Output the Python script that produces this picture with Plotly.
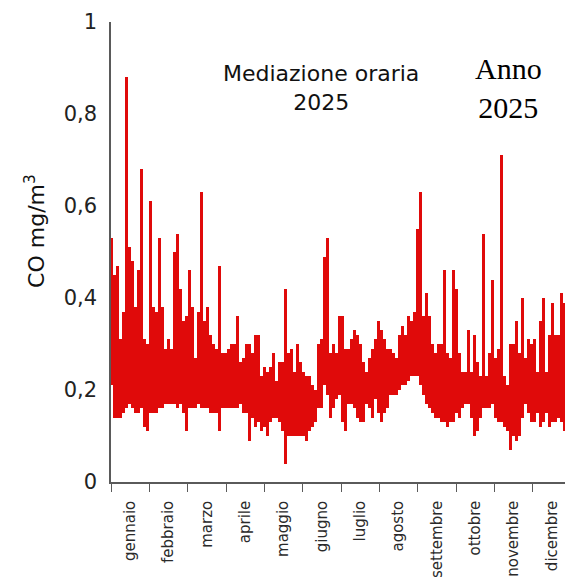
import numpy as np
import plotly.graph_objects as go

# Hourly CO (mg/m3) over 2025, summarised as successive high / low values
co_high = [
    0.53, 0.45, 0.47, 0.31, 0.37, 0.88, 0.51, 0.48, 0.38, 0.46,
    0.68, 0.31, 0.30, 0.61, 0.38, 0.37, 0.53, 0.38, 0.29, 0.31,
    0.29, 0.50, 0.54, 0.42, 0.35, 0.36, 0.46, 0.38, 0.27, 0.37,
    0.63, 0.35, 0.38, 0.32, 0.30, 0.29, 0.47, 0.28, 0.28, 0.29,
    0.30, 0.30, 0.36, 0.26, 0.27, 0.30, 0.30, 0.28, 0.32, 0.32,
    0.23, 0.25, 0.24, 0.25, 0.28, 0.22, 0.26, 0.26, 0.42, 0.28,
    0.29, 0.24, 0.30, 0.26, 0.24, 0.23, 0.23, 0.21, 0.20, 0.30,
    0.31, 0.49, 0.53, 0.28, 0.30, 0.28, 0.36, 0.36, 0.29, 0.29,
    0.31, 0.33, 0.32, 0.30, 0.26, 0.24, 0.27, 0.29, 0.31, 0.35,
    0.33, 0.31, 0.29, 0.29, 0.28, 0.27, 0.32, 0.34, 0.32, 0.36,
    0.35, 0.37, 0.55, 0.63, 0.36, 0.41, 0.36, 0.30, 0.28, 0.30,
    0.30, 0.46, 0.28, 0.27, 0.46, 0.42, 0.28, 0.24, 0.24, 0.33,
    0.24, 0.32, 0.26, 0.23, 0.54, 0.23, 0.28, 0.44, 0.27, 0.29,
    0.71, 0.23, 0.21, 0.30, 0.30, 0.35, 0.28, 0.40, 0.27, 0.31,
    0.30, 0.31, 0.24, 0.35, 0.40, 0.24, 0.32, 0.39, 0.32, 0.32,
    0.41, 0.39, 0.40, 0.36,
]
co_low = [
    0.21, 0.14, 0.14, 0.14, 0.15, 0.16, 0.17, 0.16, 0.15, 0.15,
    0.16, 0.12, 0.11, 0.15, 0.15, 0.15, 0.16, 0.16, 0.17, 0.17,
    0.17, 0.17, 0.16, 0.17, 0.15, 0.11, 0.16, 0.16, 0.16, 0.17,
    0.16, 0.16, 0.16, 0.15, 0.15, 0.15, 0.11, 0.16, 0.16, 0.16,
    0.16, 0.16, 0.16, 0.17, 0.15, 0.15, 0.09, 0.14, 0.12, 0.13,
    0.11, 0.12, 0.10, 0.13, 0.14, 0.14, 0.13, 0.11, 0.04, 0.10,
    0.10, 0.10, 0.10, 0.10, 0.10, 0.09, 0.11, 0.12, 0.13, 0.16,
    0.16, 0.21, 0.19, 0.14, 0.16, 0.18, 0.19, 0.13, 0.11, 0.17,
    0.17, 0.16, 0.14, 0.13, 0.13, 0.17, 0.16, 0.14, 0.18, 0.15,
    0.13, 0.15, 0.16, 0.19, 0.19, 0.19, 0.20, 0.21, 0.21, 0.22,
    0.23, 0.23, 0.23, 0.21, 0.19, 0.17, 0.16, 0.15, 0.14, 0.14,
    0.13, 0.13, 0.12, 0.13, 0.13, 0.15, 0.14, 0.16, 0.17, 0.17,
    0.14, 0.10, 0.11, 0.14, 0.16, 0.16, 0.16, 0.17, 0.14, 0.13,
    0.13, 0.12, 0.11, 0.07, 0.10, 0.09, 0.10, 0.14, 0.17, 0.15,
    0.13, 0.13, 0.15, 0.12, 0.13, 0.15, 0.12, 0.13, 0.13, 0.14,
    0.13, 0.11, 0.00, 0.13,
]
months = ["gennaio", "febbraio", "marzo", "aprile", "maggio", "giugno",
          "luglio", "agosto", "settembre", "ottobre", "novembre", "dicembre"]
y_ticks = [0, 0.2, 0.4, 0.6, 0.8, 1]

n = len(co_high)
x = np.linspace(0, 12, n)
lo = np.array(co_low)
hi = np.array(co_high)
RED = "#e00a0a"

fig = go.Figure()
# each hourly sweep drawn as a floating band from the low to the high value
fig.add_trace(go.Bar(x=x, base=lo, y=hi - lo, width=12 / (n - 1),
                     marker=dict(color=RED, line=dict(width=0)),
                     showlegend=False))

axis_col = "#5a5a5a"
# the page body adds an 8px offset, so the figure is sized/margined to compensate
fig.update_layout(
    width=565, height=569,
    margin=dict(l=103, r=2, t=14, b=95),
    paper_bgcolor="white", plot_bgcolor="white",
    separators=",.",
    bargap=0,
    font=dict(family="DejaVu Sans", color="#222222"),
    xaxis=dict(
        range=[0, 12],
        automargin=False,
        tickvals=[i + 0.5 for i in range(12)],
        ticktext=months,
        tickangle=-90,
        ticks="",
        ticklabelstandoff=11,
        tickfont=dict(family="DejaVu Sans", size=15, color="#2a2a2a"),
        showgrid=False, zeroline=False,
        showline=True, linecolor=axis_col, linewidth=1.5,
        minor=dict(tickvals=list(range(13)), ticks="outside", ticklen=8,
                   tickwidth=1.3, tickcolor=axis_col, showgrid=False),
    ),
    yaxis=dict(
        range=[0, 1],
        automargin=False,
        tickvals=y_ticks,
        ticks="",
        ticklabelstandoff=8,
        tickfont=dict(family="DejaVu Sans", size=21, color="#222222"),
        showgrid=False, zeroline=False,
        showline=True, linecolor=axis_col, linewidth=1.5,
    ),
    annotations=[
        dict(text="CO mg/m<sup>3</sup>", textangle=-90,
             xref="paper", yref="paper", x=-0.165, y=0.546,
             xanchor="center", yanchor="middle", showarrow=False,
             font=dict(family="DejaVu Sans", size=22, color="#111111")),
        dict(text="Mediazione oraria<br>2025",
             xref="paper", yref="paper", x=0.4565, y=0.857,
             xanchor="center", yanchor="middle", showarrow=False,
             font=dict(family="DejaVu Sans", size=22, color="#111111")),
        dict(text="Anno<br>2025",
             xref="paper", yref="paper", x=0.865, y=0.857,
             xanchor="center", yanchor="middle", showarrow=False,
             font=dict(family="Liberation Serif", size=30, color="#000000")),
    ],
)

fig.write_html("out.html")
